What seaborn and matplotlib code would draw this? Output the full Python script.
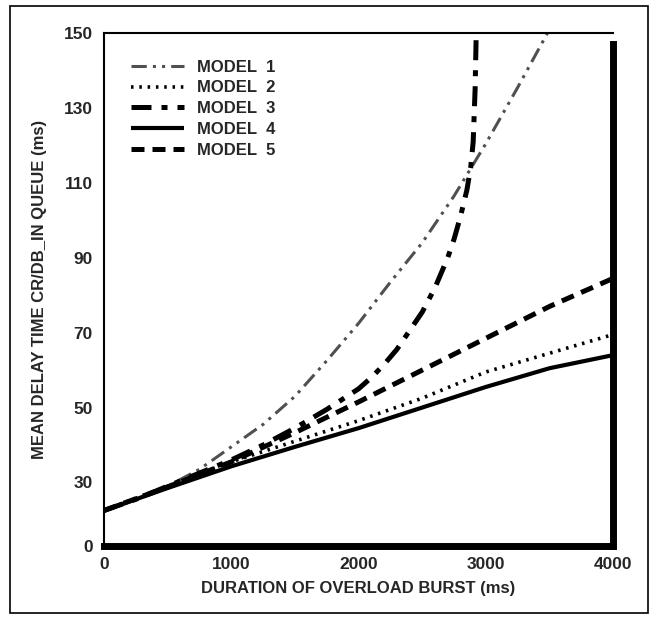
import pandas as pd
import seaborn as sns
import matplotlib.pyplot as plt
from matplotlib.patches import Rectangle

# values (x in ms, y in ms)
x_m1 = [0, 250, 500, 750, 1000, 1250, 1500, 1750, 2000, 2250, 2500, 2750, 3000, 3250, 3500]
y_m1 = [22.5, 25.5, 29, 33.5, 39.5, 45.5, 53, 62.5, 72.5, 83.5, 94, 106.5, 120.5, 135.5, 151]

x_m2 = [0, 500, 1000, 1500, 2000, 2500, 3000, 3500, 4000]
y_m2 = [22.5, 29, 35.5, 41, 46.5, 52.5, 59.5, 64.5, 69.5]

x_m3 = [0, 250, 500, 750, 1000, 1250, 1500, 1750, 2000, 2100, 2200, 2300, 2400, 2500,
        2600, 2700, 2750, 2800, 2850, 2880, 2900, 2915, 2925]
y_m3 = [22.5, 25.5, 29, 32.5, 36, 40, 44.5, 49.5, 55, 58, 61.5, 65.5, 70.5, 75.5,
        82, 90, 95, 101, 108, 114, 121, 135, 152]

x_m4 = [0, 500, 1000, 1500, 2000, 2500, 3000, 3500, 4000]
y_m4 = [22.5, 28.5, 34.3, 39.5, 44.5, 50, 55.5, 60.5, 64]

x_m5 = [0, 500, 1000, 1500, 2000, 2500, 3000, 3500, 4000]
y_m5 = [22.5, 28.8, 35.5, 43.3, 51.5, 60, 68.5, 77, 84.5]

labels = ['MODEL  1', 'MODEL  2', 'MODEL  3', 'MODEL  4', 'MODEL  5']
ytick_vals = [13, 30, 50, 70, 90, 110, 130, 150]
ytick_text = ['0', '30', '50', '70', '90', '110', '130', '150']
xtick_vals = [0, 1000, 2000, 3000, 4000]

sns.set_theme(style='white')
plt.rcParams['font.family'] = ['Liberation Sans', 'DejaVu Sans']
plt.rcParams['font.weight'] = 'bold'

fig = plt.figure(figsize=(6.58, 6.22), dpi=100)
ax = fig.add_axes([0.158, 0.122, 0.774, 0.825])

series = [(x_m1, y_m1), (x_m2, y_m2), (x_m3, y_m3), (x_m4, y_m4), (x_m5, y_m5)]
styles = [
    dict(color='#505050', lw=2.2, dashes=(5, 2, 1, 2, 1, 2)),
    dict(color='black', lw=2.6, dashes=(0.7, 1.6)),
    dict(color='black', lw=3.6, dashes=(4, 2, 1.2, 2)),
    dict(color='black', lw=3.0),
    dict(color='black', lw=3.6, dashes=(2.6, 1.6)),
]

for (xs, ys), lab, st in zip(series, labels, styles):
    df = pd.DataFrame({'x': xs, 'y': ys})
    kw = dict(color=st['color'], lw=st['lw'])
    line = sns.lineplot(data=df, x='x', y='y', ax=ax, label=lab, **kw).lines[-1]
    if 'dashes' in st:
        line.set_dashes(st['dashes'])
    line.set_solid_capstyle('butt')
    line.set_dash_capstyle('butt')

ax.set_xlim(0, 4000)
ax.set_ylim(13, 150)
ax.set_xticks(xtick_vals)
ax.set_xticklabels([str(v) for v in xtick_vals], fontsize=12.5, fontweight='bold')
ax.set_yticks(ytick_vals)
ax.set_yticklabels(ytick_text, fontsize=12.5, fontweight='bold')
ax.set_yticks(list(range(40, 150, 20)), minor=True)

ax.tick_params(axis='both', which='both', direction='in', length=9, width=1.5,
               color='black', pad=8)

ax.set_xlabel('DURATION OF OVERLOAD BURST (ms)', fontsize=12, fontweight='bold', labelpad=6)
ax.set_ylabel('MEAN DELAY TIME CR/DB_IN QUEUE (ms)', fontsize=12, fontweight='bold', labelpad=12)

for side in ['top', 'left']:
    ax.spines[side].set_color('black')
    ax.spines[side].set_linewidth(1.5)
for side in ['bottom', 'right']:
    ax.spines[side].set_color('black')
    ax.spines[side].set_linewidth(5)
# the right edge shadow starts a little below the top line
ax.spines['right'].set_bounds(13, 147)

leg = ax.legend(loc='upper left', frameon=False, handlelength=3.2, handletextpad=0.8,
                labelspacing=0.35, borderaxespad=1.2,
                prop={'size': 12, 'weight': 'bold'})

# thin frame around the whole figure
fig.patches.append(Rectangle((0.015, 0.015), 0.97, 0.975, transform=fig.transFigure,
                             fill=False, edgecolor='black', lw=1.2))

fig.savefig('out.png', dpi=100)
